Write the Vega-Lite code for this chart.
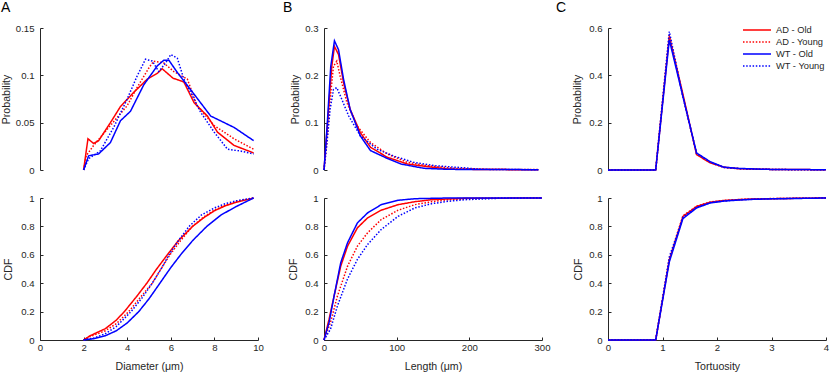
{
  "$schema": "https://vega.github.io/schema/vega-lite/v6.json",
  "padding": {"left": 1, "top": 1, "right": 2, "bottom": 0},
  "background": "white",
  "bounds": "flush",
  "columns": 3,
  "spacing": {"row": 28, "column": 66},
  "config": {
    "view": {"stroke": null},
    "font": "Liberation Sans",
    "axis": {"grid": false, "domainColor": "#262626", "tickColor": "#262626", "labelColor": "#262626", "titleColor": "#262626", "labelFont": "Liberation Sans", "titleFont": "Liberation Sans", "labelFontSize": 9.6, "titleFontSize": 10.6, "titleFontWeight": "normal", "tickSize": -3, "titlePadding": 4, "domainWidth": 1, "tickWidth": 1, "labelFlush": false, "labelOverlap": false},
    "axisY": {"labelPadding": 9},
    "axisX": {"labelPadding": 5, "titlePadding": 9.5},
    "title": {"fontSize": 14, "fontWeight": "normal", "anchor": "start", "frame": "group", "color": "black", "baseline": "alphabetic", "font": "Liberation Sans"},
    "line": {"strokeWidth": 1.5}
  },
  "resolve": {"scale": {"color": "independent", "strokeDash": "independent"}},
  "datasets": {
    "diamP": [
      {"s":"AD - Old","x":2,"y":0},{"s":"AD - Old","x":2.2,"y":0.033},{"s":"AD - Old","x":2.46,"y":0.028},{"s":"AD - Old","x":2.69,"y":0.031},{"s":"AD - Old","x":3.23,"y":0.05},{"s":"AD - Old","x":3.69,"y":0.067},{"s":"AD - Old","x":4.3,"y":0.082},{"s":"AD - Old","x":4.92,"y":0.096},{"s":"AD - Old","x":5.38,"y":0.102},{"s":"AD - Old","x":5.6,"y":0.107},{"s":"AD - Old","x":6.1,"y":0.097},{"s":"AD - Old","x":6.6,"y":0.093},{"s":"AD - Old","x":7.07,"y":0.071},{"s":"AD - Old","x":7.68,"y":0.057},{"s":"AD - Old","x":8.14,"y":0.04},{"s":"AD - Old","x":8.9,"y":0.026},{"s":"AD - Old","x":9.8,"y":0.018},
      {"s":"AD - Young","x":2,"y":0},{"s":"AD - Young","x":2.12,"y":0.015},{"s":"AD - Young","x":2.46,"y":0.026},{"s":"AD - Young","x":3.23,"y":0.047},{"s":"AD - Young","x":4,"y":0.068},{"s":"AD - Young","x":4.45,"y":0.087},{"s":"AD - Young","x":5,"y":0.108},{"s":"AD - Young","x":5.22,"y":0.115},{"s":"AD - Young","x":5.68,"y":0.113},{"s":"AD - Young","x":6.14,"y":0.104},{"s":"AD - Young","x":6.76,"y":0.096},{"s":"AD - Young","x":7.2,"y":0.068},{"s":"AD - Young","x":7.99,"y":0.047},{"s":"AD - Young","x":8.9,"y":0.033},{"s":"AD - Young","x":9.8,"y":0.022},
      {"s":"WT - Old","x":2,"y":0},{"s":"WT - Old","x":2.23,"y":0.015},{"s":"WT - Old","x":2.69,"y":0.017},{"s":"WT - Old","x":3.23,"y":0.029},{"s":"WT - Old","x":3.69,"y":0.052},{"s":"WT - Old","x":4.15,"y":0.062},{"s":"WT - Old","x":4.76,"y":0.09},{"s":"WT - Old","x":5.38,"y":0.11},{"s":"WT - Old","x":5.68,"y":0.116},{"s":"WT - Old","x":5.91,"y":0.116},{"s":"WT - Old","x":6.3,"y":0.103},{"s":"WT - Old","x":7.07,"y":0.08},{"s":"WT - Old","x":7.83,"y":0.057},{"s":"WT - Old","x":8.9,"y":0.045},{"s":"WT - Old","x":9.8,"y":0.031},
      {"s":"WT - Young","x":2,"y":0},{"s":"WT - Young","x":2.23,"y":0.012},{"s":"WT - Young","x":2.76,"y":0.02},{"s":"WT - Young","x":3.38,"y":0.045},{"s":"WT - Young","x":4,"y":0.075},{"s":"WT - Young","x":4.45,"y":0.099},{"s":"WT - Young","x":4.84,"y":0.117},{"s":"WT - Young","x":5.15,"y":0.115},{"s":"WT - Young","x":5.45,"y":0.104},{"s":"WT - Young","x":5.76,"y":0.113},{"s":"WT - Young","x":6,"y":0.122},{"s":"WT - Young","x":6.3,"y":0.118},{"s":"WT - Young","x":6.6,"y":0.096},{"s":"WT - Young","x":7.37,"y":0.061},{"s":"WT - Young","x":7.99,"y":0.04},{"s":"WT - Young","x":8.6,"y":0.022},{"s":"WT - Young","x":9.2,"y":0.02},{"s":"WT - Young","x":9.8,"y":0.017}
    ],
    "diamC": [
      {"s":"AD - Old","x":2,"y":0},{"s":"AD - Old","x":2.3,"y":0.03},{"s":"AD - Old","x":3,"y":0.08},{"s":"AD - Old","x":3.5,"y":0.14},{"s":"AD - Old","x":3.87,"y":0.2},{"s":"AD - Old","x":4.4,"y":0.3},{"s":"AD - Old","x":4.9,"y":0.4},{"s":"AD - Old","x":5.35,"y":0.5},{"s":"AD - Old","x":5.84,"y":0.6},{"s":"AD - Old","x":6.35,"y":0.7},{"s":"AD - Old","x":7,"y":0.8},{"s":"AD - Old","x":7.5,"y":0.86},{"s":"AD - Old","x":8,"y":0.91},{"s":"AD - Old","x":8.5,"y":0.945},{"s":"AD - Old","x":9,"y":0.97},{"s":"AD - Old","x":9.8,"y":1},
      {"s":"AD - Young","x":2,"y":0},{"s":"AD - Young","x":2.3,"y":0.025},{"s":"AD - Young","x":3,"y":0.065},{"s":"AD - Young","x":3.5,"y":0.115},{"s":"AD - Young","x":4.07,"y":0.2},{"s":"AD - Young","x":4.6,"y":0.3},{"s":"AD - Young","x":5.15,"y":0.4},{"s":"AD - Young","x":5.55,"y":0.5},{"s":"AD - Young","x":5.96,"y":0.6},{"s":"AD - Young","x":6.45,"y":0.7},{"s":"AD - Young","x":6.99,"y":0.8},{"s":"AD - Young","x":7.5,"y":0.865},{"s":"AD - Young","x":8,"y":0.915},{"s":"AD - Young","x":8.5,"y":0.95},{"s":"AD - Young","x":9,"y":0.975},{"s":"AD - Young","x":9.8,"y":1},
      {"s":"WT - Old","x":2,"y":0},{"s":"WT - Old","x":2.5,"y":0.01},{"s":"WT - Old","x":3,"y":0.03},{"s":"WT - Old","x":3.5,"y":0.065},{"s":"WT - Old","x":4,"y":0.12},{"s":"WT - Old","x":4.53,"y":0.2},{"s":"WT - Old","x":5,"y":0.29},{"s":"WT - Old","x":5.5,"y":0.4},{"s":"WT - Old","x":6,"y":0.51},{"s":"WT - Old","x":6.45,"y":0.6},{"s":"WT - Old","x":7,"y":0.7},{"s":"WT - Old","x":7.65,"y":0.8},{"s":"WT - Old","x":8.3,"y":0.88},{"s":"WT - Old","x":9,"y":0.94},{"s":"WT - Old","x":9.8,"y":1},
      {"s":"WT - Young","x":2,"y":0},{"s":"WT - Young","x":2.5,"y":0.015},{"s":"WT - Young","x":3,"y":0.045},{"s":"WT - Young","x":3.5,"y":0.095},{"s":"WT - Young","x":4.18,"y":0.2},{"s":"WT - Young","x":4.7,"y":0.3},{"s":"WT - Young","x":5.15,"y":0.4},{"s":"WT - Young","x":5.55,"y":0.5},{"s":"WT - Young","x":5.92,"y":0.6},{"s":"WT - Young","x":6.35,"y":0.7},{"s":"WT - Young","x":6.84,"y":0.8},{"s":"WT - Young","x":7.4,"y":0.88},{"s":"WT - Young","x":8,"y":0.93},{"s":"WT - Young","x":8.5,"y":0.96},{"s":"WT - Young","x":9,"y":0.98},{"s":"WT - Young","x":9.8,"y":1}
    ],
    "lenP": [
      {"s":"AD - Old","x":0,"y":0},{"s":"AD - Old","x":4.6,"y":0.093},{"s":"AD - Old","x":10.7,"y":0.219},{"s":"AD - Old","x":14.4,"y":0.261},{"s":"AD - Old","x":20,"y":0.244},{"s":"AD - Old","x":27,"y":0.184},{"s":"AD - Old","x":36,"y":0.128},{"s":"AD - Old","x":50,"y":0.079},{"s":"AD - Old","x":64,"y":0.048},{"s":"AD - Old","x":87,"y":0.027},{"s":"AD - Old","x":115,"y":0.0126},{"s":"AD - Old","x":143,"y":0.007},{"s":"AD - Old","x":171,"y":0.002},{"s":"AD - Old","x":220,"y":0.001},{"s":"AD - Old","x":295,"y":0.0005},
      {"s":"AD - Young","x":0,"y":0},{"s":"AD - Young","x":4,"y":0.06},{"s":"AD - Young","x":8.4,"y":0.149},{"s":"AD - Young","x":13,"y":0.219},{"s":"AD - Young","x":17.6,"y":0.23},{"s":"AD - Young","x":22.3,"y":0.198},{"s":"AD - Young","x":31.6,"y":0.142},{"s":"AD - Young","x":45.5,"y":0.093},{"s":"AD - Young","x":64,"y":0.058},{"s":"AD - Young","x":87,"y":0.034},{"s":"AD - Young","x":115,"y":0.016},{"s":"AD - Young","x":143,"y":0.009},{"s":"AD - Young","x":180,"y":0.0035},{"s":"AD - Young","x":230,"y":0.0015},{"s":"AD - Young","x":295,"y":0.001},
      {"s":"WT - Old","x":0,"y":0},{"s":"WT - Old","x":4.6,"y":0.1},{"s":"WT - Old","x":9.3,"y":0.219},{"s":"WT - Old","x":14.4,"y":0.273},{"s":"WT - Old","x":20,"y":0.254},{"s":"WT - Old","x":27,"y":0.191},{"s":"WT - Old","x":36,"y":0.128},{"s":"WT - Old","x":50,"y":0.072},{"s":"WT - Old","x":64,"y":0.041},{"s":"WT - Old","x":87,"y":0.0245},{"s":"WT - Old","x":106,"y":0.0126},{"s":"WT - Old","x":138,"y":0.0035},{"s":"WT - Old","x":171,"y":0.0014},{"s":"WT - Old","x":220,"y":0.001},{"s":"WT - Old","x":295,"y":0.0007},
      {"s":"WT - Young","x":0,"y":0},{"s":"WT - Young","x":3.7,"y":0.051},{"s":"WT - Young","x":8.4,"y":0.128},{"s":"WT - Young","x":13,"y":0.17},{"s":"WT - Young","x":17.6,"y":0.174},{"s":"WT - Young","x":24.6,"y":0.149},{"s":"WT - Young","x":34,"y":0.114},{"s":"WT - Young","x":50,"y":0.072},{"s":"WT - Young","x":73,"y":0.044},{"s":"WT - Young","x":96.6,"y":0.029},{"s":"WT - Young","x":124,"y":0.016},{"s":"WT - Young","x":152,"y":0.009},{"s":"WT - Young","x":189,"y":0.005},{"s":"WT - Young","x":217,"y":0.0014},{"s":"WT - Young","x":260,"y":0.001},{"s":"WT - Young","x":295,"y":0.0007}
    ],
    "lenC": [
      {"s":"AD - Old","x":0,"y":0},{"s":"AD - Old","x":7,"y":0.147},{"s":"AD - Old","x":13.9,"y":0.31},{"s":"AD - Old","x":23,"y":0.52},{"s":"AD - Old","x":32.4,"y":0.661},{"s":"AD - Old","x":46,"y":0.79},{"s":"AD - Old","x":60,"y":0.86},{"s":"AD - Old","x":78.7,"y":0.914},{"s":"AD - Old","x":102,"y":0.953},{"s":"AD - Old","x":125,"y":0.974},{"s":"AD - Old","x":148,"y":0.988},{"s":"AD - Old","x":194,"y":0.998},{"s":"AD - Old","x":300,"y":1},
      {"s":"AD - Young","x":0,"y":0},{"s":"AD - Young","x":9,"y":0.124},{"s":"AD - Young","x":18.5,"y":0.31},{"s":"AD - Young","x":32.4,"y":0.52},{"s":"AD - Young","x":46,"y":0.661},{"s":"AD - Young","x":60,"y":0.755},{"s":"AD - Young","x":78.7,"y":0.848},{"s":"AD - Young","x":102,"y":0.914},{"s":"AD - Young","x":125,"y":0.953},{"s":"AD - Young","x":148,"y":0.974},{"s":"AD - Young","x":171,"y":0.988},{"s":"AD - Young","x":217,"y":0.998},{"s":"AD - Young","x":300,"y":1},
      {"s":"WT - Old","x":0,"y":0},{"s":"WT - Old","x":7,"y":0.124},{"s":"WT - Old","x":13.9,"y":0.31},{"s":"WT - Old","x":23,"y":0.544},{"s":"WT - Old","x":32.4,"y":0.685},{"s":"WT - Old","x":46,"y":0.825},{"s":"WT - Old","x":60,"y":0.895},{"s":"WT - Old","x":78.7,"y":0.953},{"s":"WT - Old","x":102,"y":0.984},{"s":"WT - Old","x":125,"y":0.995},{"s":"WT - Old","x":171,"y":1},{"s":"WT - Old","x":300,"y":1},
      {"s":"WT - Young","x":0,"y":0},{"s":"WT - Young","x":9,"y":0.077},{"s":"WT - Young","x":18.5,"y":0.24},{"s":"WT - Young","x":32.4,"y":0.43},{"s":"WT - Young","x":46,"y":0.568},{"s":"WT - Young","x":60,"y":0.673},{"s":"WT - Young","x":78.7,"y":0.778},{"s":"WT - Young","x":102,"y":0.871},{"s":"WT - Young","x":125,"y":0.93},{"s":"WT - Young","x":148,"y":0.96},{"s":"WT - Young","x":171,"y":0.977},{"s":"WT - Young","x":194,"y":0.988},{"s":"WT - Young","x":241,"y":0.998},{"s":"WT - Young","x":300,"y":1}
    ],
    "tortP": [
      {"s":"AD - Old","x":0,"y":0},{"s":"AD - Old","x":0.875,"y":0},{"s":"AD - Old","x":1.125,"y":0.565},{"s":"AD - Old","x":1.375,"y":0.32},{"s":"AD - Old","x":1.625,"y":0.065},{"s":"AD - Old","x":1.875,"y":0.03},{"s":"AD - Old","x":2.125,"y":0.012},{"s":"AD - Old","x":2.375,"y":0.006},{"s":"AD - Old","x":2.625,"y":0.004},{"s":"AD - Old","x":2.875,"y":0.003},{"s":"AD - Old","x":3.125,"y":0.002},{"s":"AD - Old","x":3.5,"y":0.002},{"s":"AD - Old","x":4,"y":0.001},
      {"s":"AD - Young","x":0,"y":0},{"s":"AD - Young","x":0.875,"y":0},{"s":"AD - Young","x":1.125,"y":0.57},{"s":"AD - Young","x":1.375,"y":0.31},{"s":"AD - Young","x":1.625,"y":0.068},{"s":"AD - Young","x":1.875,"y":0.032},{"s":"AD - Young","x":2.125,"y":0.011},{"s":"AD - Young","x":2.375,"y":0.006},{"s":"AD - Young","x":2.625,"y":0.004},{"s":"AD - Young","x":2.875,"y":0.003},{"s":"AD - Young","x":3.125,"y":0.002},{"s":"AD - Young","x":3.5,"y":0.001},{"s":"AD - Young","x":4,"y":0.001},
      {"s":"WT - Old","x":0,"y":0},{"s":"WT - Old","x":0.875,"y":0},{"s":"WT - Old","x":1.125,"y":0.55},{"s":"WT - Old","x":1.375,"y":0.31},{"s":"WT - Old","x":1.625,"y":0.072},{"s":"WT - Old","x":1.875,"y":0.035},{"s":"WT - Old","x":2.125,"y":0.012},{"s":"WT - Old","x":2.375,"y":0.007},{"s":"WT - Old","x":2.625,"y":0.005},{"s":"WT - Old","x":2.875,"y":0.003},{"s":"WT - Old","x":3.125,"y":0.002},{"s":"WT - Old","x":3.5,"y":0.002},{"s":"WT - Old","x":4,"y":0.001},
      {"s":"WT - Young","x":0,"y":0},{"s":"WT - Young","x":0.875,"y":0},{"s":"WT - Young","x":1.125,"y":0.585},{"s":"WT - Young","x":1.375,"y":0.31},{"s":"WT - Young","x":1.625,"y":0.07},{"s":"WT - Young","x":1.875,"y":0.033},{"s":"WT - Young","x":2.125,"y":0.011},{"s":"WT - Young","x":2.375,"y":0.006},{"s":"WT - Young","x":2.625,"y":0.004},{"s":"WT - Young","x":2.875,"y":0.003},{"s":"WT - Young","x":3.125,"y":0.002},{"s":"WT - Young","x":3.5,"y":0.001},{"s":"WT - Young","x":4,"y":0.001}
    ],
    "tortC": [
      {"s":"AD - Old","x":0,"y":0},{"s":"AD - Old","x":0.875,"y":0},{"s":"AD - Old","x":1.125,"y":0.565},{"s":"AD - Old","x":1.375,"y":0.87},{"s":"AD - Old","x":1.625,"y":0.94},{"s":"AD - Old","x":1.875,"y":0.97},{"s":"AD - Old","x":2.125,"y":0.982},{"s":"AD - Old","x":2.375,"y":0.988},{"s":"AD - Old","x":2.625,"y":0.992},{"s":"AD - Old","x":3,"y":0.995},{"s":"AD - Old","x":3.5,"y":0.998},{"s":"AD - Old","x":4,"y":1},
      {"s":"AD - Young","x":0,"y":0},{"s":"AD - Young","x":0.875,"y":0},{"s":"AD - Young","x":1.125,"y":0.57},{"s":"AD - Young","x":1.375,"y":0.875},{"s":"AD - Young","x":1.625,"y":0.942},{"s":"AD - Young","x":1.875,"y":0.972},{"s":"AD - Young","x":2.125,"y":0.983},{"s":"AD - Young","x":2.375,"y":0.989},{"s":"AD - Young","x":2.625,"y":0.993},{"s":"AD - Young","x":3,"y":0.996},{"s":"AD - Young","x":3.5,"y":0.998},{"s":"AD - Young","x":4,"y":1},
      {"s":"WT - Old","x":0,"y":0},{"s":"WT - Old","x":0.875,"y":0},{"s":"WT - Old","x":1.125,"y":0.55},{"s":"WT - Old","x":1.375,"y":0.855},{"s":"WT - Old","x":1.625,"y":0.93},{"s":"WT - Old","x":1.875,"y":0.965},{"s":"WT - Old","x":2.125,"y":0.978},{"s":"WT - Old","x":2.375,"y":0.985},{"s":"WT - Old","x":2.625,"y":0.99},{"s":"WT - Old","x":3,"y":0.994},{"s":"WT - Old","x":3.5,"y":0.997},{"s":"WT - Old","x":4,"y":1},
      {"s":"WT - Young","x":0,"y":0},{"s":"WT - Young","x":0.875,"y":0},{"s":"WT - Young","x":1.125,"y":0.585},{"s":"WT - Young","x":1.375,"y":0.865},{"s":"WT - Young","x":1.625,"y":0.935},{"s":"WT - Young","x":1.875,"y":0.968},{"s":"WT - Young","x":2.125,"y":0.98},{"s":"WT - Young","x":2.375,"y":0.987},{"s":"WT - Young","x":2.625,"y":0.991},{"s":"WT - Young","x":3,"y":0.995},{"s":"WT - Young","x":3.5,"y":0.998},{"s":"WT - Young","x":4,"y":1}
    ]
  },
  "concat": [
    {
      "data": {"name": "diamP"}, "width": 218, "height": 142,
      "title": {"text": "A", "dx": -39, "offset": 8},
      "mark": {"type": "line"},
      "encoding": {
        "x": {"field": "x", "type": "quantitative", "scale": {"domain": [0, 10]}, "axis": null},
        "y": {"field": "y", "type": "quantitative", "scale": {"domain": [0, 0.15]}, "axis": {"title": "Probability", "values": [0, 0.05, 0.1, 0.15], "format": ".3~g", "titlePadding": 3.5}},
        "color": {"field": "s", "type": "nominal", "scale": {"domain": ["AD - Old", "AD - Young", "WT - Old", "WT - Young"], "range": ["#ff0000", "#ff0000", "#0000ff", "#0000ff"]}, "legend": null},
        "strokeDash": {"field": "s", "type": "nominal", "scale": {"domain": ["AD - Old", "AD - Young", "WT - Old", "WT - Young"], "range": [[1, 0], [1.5, 1.7], [1, 0], [1.5, 1.7]]}, "legend": null}
      }
    },
    {
      "data": {"name": "lenP"}, "width": 218, "height": 142,
      "title": {"text": "B", "dx": -41, "offset": 8},
      "mark": {"type": "line"},
      "encoding": {
        "x": {"field": "x", "type": "quantitative", "scale": {"domain": [0, 300]}, "axis": null},
        "y": {"field": "y", "type": "quantitative", "scale": {"domain": [0, 0.3]}, "axis": {"title": "Probability", "values": [0, 0.1, 0.2, 0.3], "format": ".3~g", "titlePadding": 4}},
        "color": {"field": "s", "type": "nominal", "scale": {"domain": ["AD - Old", "AD - Young", "WT - Old", "WT - Young"], "range": ["#ff0000", "#ff0000", "#0000ff", "#0000ff"]}, "legend": null},
        "strokeDash": {"field": "s", "type": "nominal", "scale": {"domain": ["AD - Old", "AD - Young", "WT - Old", "WT - Young"], "range": [[1, 0], [1.5, 1.7], [1, 0], [1.5, 1.7]]}, "legend": null}
      }
    },
    {
      "data": {"name": "tortP"}, "width": 218, "height": 142,
      "title": {"text": "C", "dx": -52, "offset": 8},
      "mark": {"type": "line"},
      "encoding": {
        "x": {"field": "x", "type": "quantitative", "scale": {"domain": [0, 4]}, "axis": null},
        "y": {"field": "y", "type": "quantitative", "scale": {"domain": [0, 0.6]}, "axis": {"title": "Probability", "values": [0, 0.2, 0.4, 0.6], "format": ".3~g", "titlePadding": 6}},
        "color": {"field": "s", "type": "nominal", "scale": {"domain": ["AD - Old", "AD - Young", "WT - Old", "WT - Young"], "range": ["#ff0000", "#ff0000", "#0000ff", "#0000ff"]},
          "legend": {"title": null, "orient": "none", "legendX": 134, "legendY": -4, "symbolType": "stroke", "symbolSize": 784, "symbolStrokeWidth": 1.5, "clipHeight": 12, "rowPadding": 0, "labelOffset": 4, "labelFontSize": 9.3, "labelColor": "#262626", "labelFont": "Liberation Sans", "padding": 0}},
        "strokeDash": {"field": "s", "type": "nominal", "scale": {"domain": ["AD - Old", "AD - Young", "WT - Old", "WT - Young"], "range": [[1, 0], [1.5, 1.7], [1, 0], [1.5, 1.7]]},
          "legend": {"title": null, "orient": "none", "legendX": 134, "legendY": -4, "symbolType": "stroke", "symbolSize": 784, "symbolStrokeWidth": 1.5, "clipHeight": 12, "rowPadding": 0, "labelOffset": 4, "labelFontSize": 9.3, "labelColor": "#262626", "labelFont": "Liberation Sans", "padding": 0}}
      }
    },
    {
      "data": {"name": "diamC"}, "width": 218, "height": 142,
      "mark": {"type": "line"},
      "encoding": {
        "x": {"field": "x", "type": "quantitative", "scale": {"domain": [0, 10]}, "axis": {"title": "Diameter (μm)", "values": [0, 2, 4, 6, 8, 10]}},
        "y": {"field": "y", "type": "quantitative", "scale": {"domain": [0, 1]}, "axis": {"title": "CDF", "values": [0, 0.2, 0.4, 0.6, 0.8, 1], "format": "~g", "titlePadding": 7.5}},
        "color": {"field": "s", "type": "nominal", "scale": {"domain": ["AD - Old", "AD - Young", "WT - Old", "WT - Young"], "range": ["#ff0000", "#ff0000", "#0000ff", "#0000ff"]}, "legend": null},
        "strokeDash": {"field": "s", "type": "nominal", "scale": {"domain": ["AD - Old", "AD - Young", "WT - Old", "WT - Young"], "range": [[1, 0], [1.5, 1.7], [1, 0], [1.5, 1.7]]}, "legend": null}
      }
    },
    {
      "data": {"name": "lenC"}, "width": 218, "height": 142,
      "mark": {"type": "line"},
      "encoding": {
        "x": {"field": "x", "type": "quantitative", "scale": {"domain": [0, 300]}, "axis": {"title": "Length (μm)", "values": [0, 100, 200, 300]}},
        "y": {"field": "y", "type": "quantitative", "scale": {"domain": [0, 1]}, "axis": {"title": "CDF", "values": [0, 0.2, 0.4, 0.6, 0.8, 1], "format": "~g", "titlePadding": 6}},
        "color": {"field": "s", "type": "nominal", "scale": {"domain": ["AD - Old", "AD - Young", "WT - Old", "WT - Young"], "range": ["#ff0000", "#ff0000", "#0000ff", "#0000ff"]}, "legend": null},
        "strokeDash": {"field": "s", "type": "nominal", "scale": {"domain": ["AD - Old", "AD - Young", "WT - Old", "WT - Young"], "range": [[1, 0], [1.5, 1.7], [1, 0], [1.5, 1.7]]}, "legend": null}
      }
    },
    {
      "data": {"name": "tortC"}, "width": 218, "height": 142,
      "mark": {"type": "line"},
      "encoding": {
        "x": {"field": "x", "type": "quantitative", "scale": {"domain": [0, 4]}, "axis": {"title": "Tortuosity", "values": [0, 1, 2, 3, 4]}},
        "y": {"field": "y", "type": "quantitative", "scale": {"domain": [0, 1]}, "axis": {"title": "CDF", "values": [0, 0.2, 0.4, 0.6, 0.8, 1], "format": "~g", "titlePadding": 4.7}},
        "color": {"field": "s", "type": "nominal", "scale": {"domain": ["AD - Old", "AD - Young", "WT - Old", "WT - Young"], "range": ["#ff0000", "#ff0000", "#0000ff", "#0000ff"]}, "legend": null},
        "strokeDash": {"field": "s", "type": "nominal", "scale": {"domain": ["AD - Old", "AD - Young", "WT - Old", "WT - Young"], "range": [[1, 0], [1.5, 1.7], [1, 0], [1.5, 1.7]]}, "legend": null}
      }
    }
  ]
}
